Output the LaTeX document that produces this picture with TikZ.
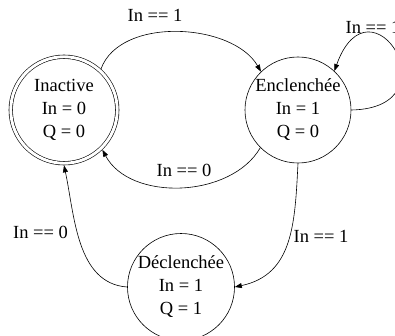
\documentclass[tikz,border=0pt]{standalone}
\usepackage{fontspec}
\setmainfont{Liberation Serif}
\usepackage{tikz}
\usetikzlibrary{arrows.meta}

\begin{document}
\begin{tikzpicture}[x=1pt, y=1pt,
    state/.style={draw, circle, line width=0.6, inner sep=0, align=center,
                  font=\fontsize{18.5}{23}\selectfont},
    trans/.style={->, >={Triangle[length=7pt, width=5pt]}, line width=0.6},
    cond/.style={inner sep=0, font=\fontsize{18.5}{23}\selectfont}]
  \useasboundingbox (0, 0) rectangle (395, 335);
  \clip (0, 0) rectangle (395, 335);

  % States
  \node[state, double, double distance=2.9pt, outer sep=2.05pt,
        minimum size=106.5pt] (ina) at (64, 225) {Inactive\\In = 0\\Q = 0};
  \node[state, minimum size=106pt] (enc) at (298, 225) {Enclenchée\\In = 1\\Q = 0};
  \node[state, minimum size=107pt] (dec) at (181, 48) {Déclenchée\\In = 1\\Q = 1};

  % Transitions
  \draw[trans] (ina.48) to[out=70, in=120, looseness=0.9] (enc.134);
  \draw[trans] (enc.225) to[out=240, in=-62, looseness=0.95] (ina.-46);
  \draw[trans] (enc.east) .. controls +(105, 2) and +(36, 100) .. (enc.47);
  \draw[trans] (enc.south) to[out=-93, in=12, looseness=1.1] (dec.east);
  \draw[trans] (dec.west) to[out=176, in=-78, looseness=0.95] (ina.south);

  % Conditions
  \node[cond] (c1) at (155, 320) {In == 1};
  \node[cond] (c2) at (373, 308) {In == 1};
  \node[cond] (c3) at (184, 165) {In == 0};
  \node[cond] (c4) at (40.5, 102.5) {In == 0};
  \node[cond] (c5) at (321, 98.5) {In == 1};

\end{tikzpicture}
\end{document}
